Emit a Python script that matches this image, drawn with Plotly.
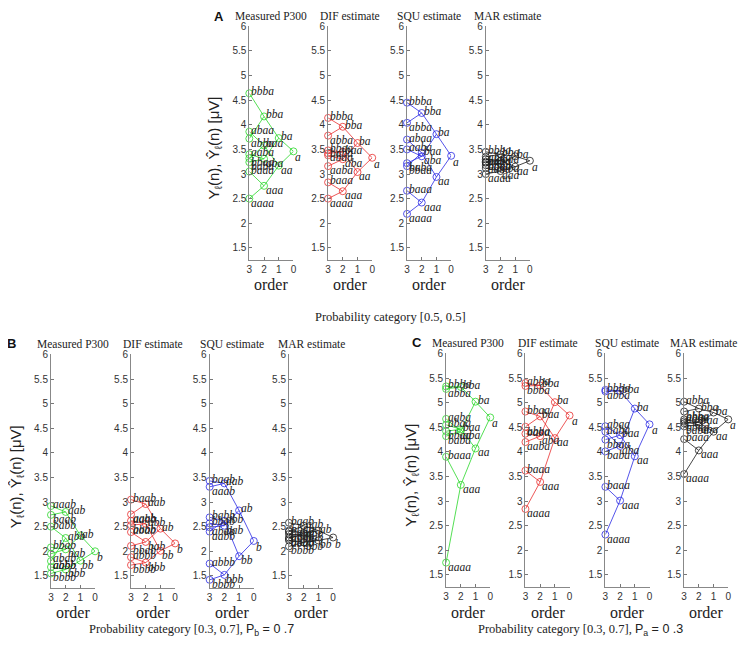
import plotly.graph_objects as go

# page body has an 8px default margin: figure is drawn 8px in from the window corner
OFF = 8
W, H = 731, 629

# ---------------- data ----------------
LAB_A = [["a"], ["aa", "ba"], ["aaa", "baa", "aba", "bba"],
         ["aaaa", "baaa", "abaa", "bbaa", "aaba", "baba", "abba", "bbba"]]
LAB_B = [["b"], ["ab", "bb"], ["aab", "bab", "abb", "bbb"],
         ["aaab", "baab", "abab", "bbab", "aabb", "babb", "abbb", "bbbb"]]

orders = [0, 1, 2, 3]
y_ticks = [1.5, 2, 2.5, 3, 3.5, 4, 4.5, 5, 5.5, 6]
y_tick_text = ["1.5", "2", "2.5", "3", "3.5", "4", "4.5", "5", "5.5", "6"]
x_ticks = [3, 2, 1, 0]
x_tick_text = ["3", "2", "1", "0"]
panel_titles = ["Measured P300", "DIF estimate", "SQU estimate", "MAR estimate"]
group_letters = ["A", "B", "C"]
captions = [
    "Probability category [0.5, 0.5]",
    "Probability category [0.3, 0.7], <span style=\"font-family:'Liberation Sans'\">P<sub>b</sub> = 0 .7</span>",
    "Probability category [0.3, 0.7], <span style=\"font-family:'Liberation Sans'\">P<sub>a</sub> = 0 .3</span>",
]

# values per order (0..3)
A_measured = [[3.46], [3.17, 3.73], [2.76, 3.58, 3.31, 4.17],
              [2.50, 3.05, 3.86, 3.32, 3.40, 3.24, 3.72, 4.64]]
A_dif = [[3.33], [3.04, 3.63], [2.65, 3.45, 3.30, 3.96],
         [2.50, 2.83, 3.42, 3.48, 3.16, 3.38, 3.78, 4.14]]
A_squ = [[3.37], [2.94, 3.81], [2.42, 3.43, 3.36, 4.24],
         [2.19, 2.66, 3.70, 3.16, 3.50, 3.22, 4.04, 4.45]]
A_mar = [[3.27], [3.15, 3.36], [3.06, 3.27, 3.21, 3.40],
         [3.00, 3.12, 3.30, 3.25, 3.18, 3.23, 3.35, 3.45]]

B_measured = [[2.00], [2.32, 1.81], [2.80, 2.04, 2.27, 1.63],
              [2.92, 2.74, 1.95, 2.08, 1.80, 2.50, 1.68, 1.55]]
B_dif = [[2.16], [2.46, 2.01], [2.96, 2.19, 2.56, 1.77],
         [2.75, 3.05, 2.39, 2.11, 2.62, 2.53, 1.88, 1.72]]
B_squ = [[2.21], [2.83, 1.90], [3.38, 2.52, 2.62, 1.52],
         [3.31, 3.43, 2.49, 2.57, 2.40, 2.69, 1.75, 1.42]]
B_mar = [[2.28], [2.42, 2.22], [2.52, 2.37, 2.33, 2.18],
         [2.40, 2.58, 2.25, 2.42, 2.28, 2.35, 2.22, 2.10]]

C_measured = [[4.70], [4.07, 5.02], [3.33, 4.46, 4.42, 5.32],
              [1.75, 3.90, 4.55, 4.42, 4.67, 4.32, 5.28, 5.33]]
C_dif = [[4.74], [4.28, 5.01], [3.39, 4.72, 4.32, 5.35],
         [2.84, 3.62, 4.51, 4.82, 4.20, 4.37, 5.40, 5.34]]
C_squ = [[4.56], [3.91, 4.88], [3.01, 4.34, 4.12, 5.24],
         [2.32, 3.29, 4.52, 4.25, 4.41, 4.01, 5.23, 5.26]]
C_mar = [[4.66], [4.41, 4.80], [4.03, 4.60, 4.55, 4.88],
         [3.55, 4.26, 4.66, 4.58, 4.62, 4.52, 5.02, 4.82]]

groups = [
    (LAB_A, [A_measured, A_dif, A_squ, A_mar]),
    (LAB_B, [B_measured, B_dif, B_squ, B_mar]),
    (LAB_A, [C_measured, C_dif, C_squ, C_mar]),
]

# ---------------- styling / geometry (window pixels) ----------------
colors = ["rgb(40,215,40)", "rgb(232,45,45)", "rgb(40,40,228)", "rgb(25,25,25)"]
panel_left = [[248.3, 327.7, 407.3, 486.7],
              [48.3, 129.0, 208.3, 288.3],
              [446.7, 526.7, 607.3, 686.7]]
panel_w = 44.5
group_top = [21.5, 352.2, 351.2]
plot_h = 4.75 * 49.6
ytitle_x = [213.0, 13.0, 411.7]
letter_pos = [(218, 12), (9, 341), (417, 340)]
title_y = [11.0, 341.7, 340.5]
title_nudge = [[0, 0, 0, 0], [0, 0, 0, 0], [0, 0, 0, -3]]
caption_pos = [(391, 314), (190, 629.5), (582, 629.5)]

SERIF = "Liberation Serif"
SANS = "Liberation Sans"


def px(sx):
    return (sx - OFF) / W


def py(sy):
    return 1 - (sy - OFF) / H


fig = go.Figure()
annotations = []
layout_axes = {}

n = 0
for g, (labs, panels) in enumerate(groups):
    top = group_top[g]
    ydom = [py(top + plot_h), py(top)]
    for p, vals in enumerate(panels):
        n += 1
        xs = "" if n == 1 else str(n)
        x0 = panel_left[g][p]
        xdom = [px(x0), px(x0 + panel_w)]
        col = colors[p]

        # edges child -> parent
        ex, ey = [], []
        for k in range(1, 4):
            for i, v in enumerate(vals[k]):
                ex += [orders[k], orders[k - 1], None]
                ey += [v, vals[k - 1][i // 2], None]
        fig.add_trace(go.Scatter(x=ex, y=ey, mode="lines", xaxis="x" + xs, yaxis="y" + xs,
                                 line=dict(color=col, width=0.8), hoverinfo="skip",
                                 cliponaxis=False))
        # nodes
        nx, ny = [], []
        for k in range(4):
            for v in vals[k]:
                nx.append(orders[k])
                ny.append(v)
        fig.add_trace(go.Scatter(x=nx, y=ny, mode="markers", xaxis="x" + xs, yaxis="y" + xs,
                                 marker=dict(symbol="circle-open", size=7, color=col,
                                             line=dict(width=0.8, color=col)),
                                 cliponaxis=False))
        # labels
        for k in range(4):
            for i, v in enumerate(vals[k]):
                if k == 0:
                    ys = -6
                else:
                    sib = vals[k][i ^ 1]
                    ys = 2 if v >= sib else -4
                annotations.append(dict(
                    x=orders[k], y=v, xref="x" + xs, yref="y" + xs,
                    text="<i>" + labs[k][i] + "</i>", showarrow=False,
                    xanchor="left", yanchor="middle", xshift=0, yshift=ys,
                    font=dict(family=SERIF, size=11.5, color="#222")))

        layout_axes["xaxis" + xs] = dict(
            domain=xdom, anchor="y" + xs, range=[3, 0], tickvals=x_ticks, ticktext=x_tick_text,
            ticks="inside", ticklen=3, tickcolor="#777", showline=True, linecolor="#888",
            linewidth=1, showgrid=False, zeroline=False,
            tickfont=dict(family=SANS, size=10, color="#333"))
        layout_axes["yaxis" + xs] = dict(
            domain=ydom, anchor="x" + xs, range=[1.25, 6], tickvals=y_ticks, ticktext=y_tick_text,
            ticks="inside", ticklen=3, tickcolor="#777", showline=True, linecolor="#888",
            linewidth=1, showgrid=False, zeroline=False,
            tickfont=dict(family=SANS, size=10, color="#333"))

        # panel title
        annotations.append(dict(
            x=px(x0 + panel_w / 2 + title_nudge[g][p]), y=py(title_y[g]), xref="paper", yref="paper",
            text=panel_titles[p], showarrow=False, xanchor="center", yanchor="middle",
            font=dict(family=SERIF, size=11.5, color="#222")))
        # x title
        annotations.append(dict(
            x=px(x0 + panel_w / 2), y=py(top + plot_h + 25), xref="paper", yref="paper",
            text="order", showarrow=False, xanchor="center", yanchor="middle",
            font=dict(family=SERIF, size=16, color="#222")))

    # y title
    annotations.append(dict(
        x=px(ytitle_x[g]), y=py(top + plot_h / 2 + 5), xref="paper", yref="paper",
        text="Y<sub>ℓ</sub>(n), Ŷ<sub>ℓ</sub>(n) [μV]", textangle=-90, showarrow=False,
        xanchor="center", yanchor="middle", font=dict(family=SANS, size=15, color="#222")))
    # group letter
    lx, ly = letter_pos[g]
    annotations.append(dict(
        x=px(lx), y=py(ly), xref="paper", yref="paper", text="<b>" + group_letters[g] + "</b>",
        showarrow=False, xanchor="center", yanchor="middle",
        font=dict(family=SANS, size=13, color="#111")))
    # caption
    cx, cy = caption_pos[g]
    annotations.append(dict(
        x=px(cx), y=py(cy), xref="paper", yref="paper", text=captions[g],
        showarrow=False, xanchor="center", yanchor="middle",
        font=dict(family=SERIF, size=12.5, color="#222")))

fig.update_layout(
    width=W, height=H, margin=dict(l=0, r=0, t=0, b=0),
    paper_bgcolor="white", plot_bgcolor="white", showlegend=False,
    annotations=annotations, **layout_axes)

fig.write_html("out.html")
